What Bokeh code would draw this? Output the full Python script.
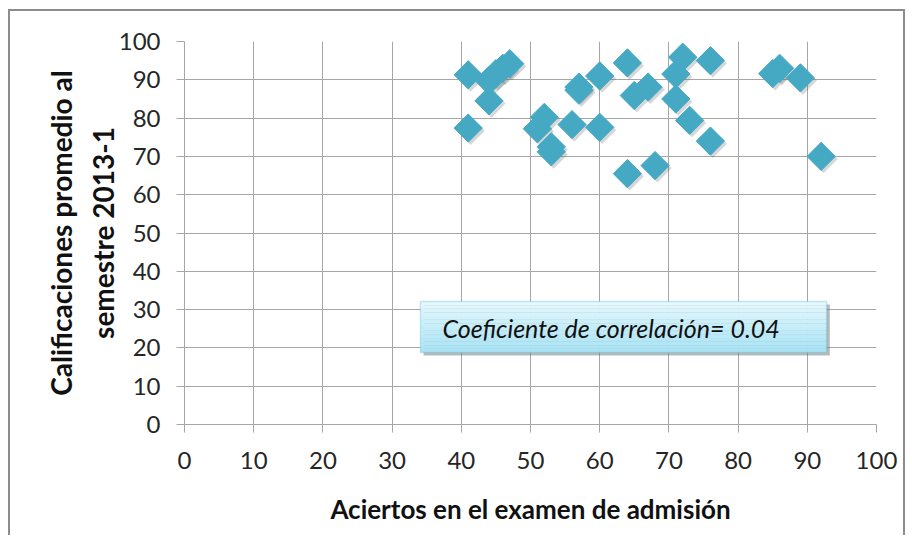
import numpy as np
from bokeh.plotting import figure
from bokeh.models import BoxAnnotation, Label, FixedTicker, Range1d
from bokeh.embed import file_html
from bokeh.resources import INLINE

# Data
aciertos = [41, 41, 44, 44, 45, 46, 47, 51, 52, 53, 53, 56, 57, 57, 60, 60,
            64, 64, 65, 67, 68, 71, 71, 72, 73, 76, 76, 85, 86, 89, 92]
calificaciones = [91.3, 77.4, 84.5, 89.8, 91.6, 93.0, 94.2, 77.2, 80.2, 72.5, 71.2, 78.3, 88.1, 87.3, 91.0, 77.6,
                  94.4, 65.5, 85.9, 88.1, 67.6, 91.5, 85.0, 95.9, 79.4, 95.0, 74.0, 91.6, 93.0, 90.5, 70.0]
x_ticks = [0, 10, 20, 30, 40, 50, 60, 70, 80, 90, 100]
y_ticks = [0, 10, 20, 30, 40, 50, 60, 70, 80, 90, 100]
x_title = "Aciertos en el examen de admisión"
y_title = "Calificaciones promedio al\nsemestre 2013-1"
coef_text = "Coeficiente de correlación= 0.04"

FONT = "Lato"
GRID = "#a6a6a6"
BORDER = "2px solid #8c8c8c"

p = figure(width=897, height=526, x_range=Range1d(0, 100), y_range=Range1d(0, 100),
           output_backend="svg", toolbar_location=None,
           min_border_left=174, min_border_right=31, min_border_top=30, min_border_bottom=113)
p.margin = (9, 0, 0, 8)
p.styles = {"border-left": BORDER, "border-top": BORDER, "border-right": BORDER}
p.outline_line_color = None
p.background_fill_color = "white"
p.border_fill_color = "white"

for ax, ticks in ((p.xaxis, x_ticks), (p.yaxis, y_ticks)):
    ax.ticker = FixedTicker(ticks=ticks)
    ax.axis_line_color = GRID
    ax.major_tick_line_color = GRID
    ax.major_tick_out = 8
    ax.major_tick_in = 0
    ax.minor_tick_line_color = None
    ax.major_label_text_font = FONT
    ax.major_label_text_font_size = "24px"
    ax.major_label_text_color = "#262626"
    ax.axis_label_text_font = FONT
    ax.axis_label_text_font_style = "bold"
    ax.axis_label_text_color = "#111111"

p.xaxis.axis_label_text_font_size = "26px"
p.yaxis.axis_label_text_font_size = "28px"
p.xaxis.axis_label = x_title
p.yaxis.axis_label = y_title
p.yaxis.axis_label_text_line_height = 1.22
p.xaxis.major_label_standoff = 19
p.yaxis.major_label_standoff = 16
p.xaxis.axis_label_standoff = 21
p.yaxis.axis_label_standoff = -4

p.xgrid.ticker = FixedTicker(ticks=x_ticks)
p.ygrid.ticker = FixedTicker(ticks=y_ticks)
for g in (p.xgrid, p.ygrid):
    g.grid_line_color = GRID
    g.grid_line_width = 1

# marker shadow
xs = np.array(aciertos, dtype=float)
ys = np.array(calificaciones, dtype=float)
p.scatter(xs + 0.35, ys - 0.7, marker="square", size=20, angle=np.pi / 4,
          fill_color="#606060", fill_alpha=0.25, line_color=None)
p.scatter(xs, ys, marker="square", size=20, angle=np.pi / 4,
          fill_color="#46a9c4", line_color="#46a9c4", line_width=1)

# text box with shadow and gradient
bl, br, bt, bb = 34.1, 92.8, 32.1, 18.8
p.add_layout(BoxAnnotation(left=bl + 0.45, right=br + 0.45, top=bt - 0.8, bottom=bb - 0.8,
                           fill_color="#7f7f7f", fill_alpha=0.55, line_color=None))
n = 14
top_c = np.array([0xe4, 0xf8, 0xfe])
bot_c = np.array([0xa8, 0xe4, 0xf6])
for i in range(n):
    t = i / (n - 1)
    c = (top_c * (1 - t) + bot_c * t).astype(int)
    col = "#%02x%02x%02x" % tuple(c)
    y0 = bt - (bt - bb) * i / n
    y1 = bt - (bt - bb) * (i + 1) / n
    p.add_layout(BoxAnnotation(left=bl, right=br, top=y0, bottom=y1,
                               fill_color=col, fill_alpha=1.0, line_color=None))
p.add_layout(BoxAnnotation(left=bl, right=br, top=bt, bottom=bb,
                           fill_alpha=0, line_color="#4fb3cf", line_width=1.5))
p.add_layout(Label(x=37.3, y=25.3, text=coef_text, text_font=FONT,
                   text_font_style="italic", text_font_size="25px", text_color="#111111",
                   text_baseline="middle", text_align="left"))

open("out.html", "w").write(file_html(p, INLINE))
